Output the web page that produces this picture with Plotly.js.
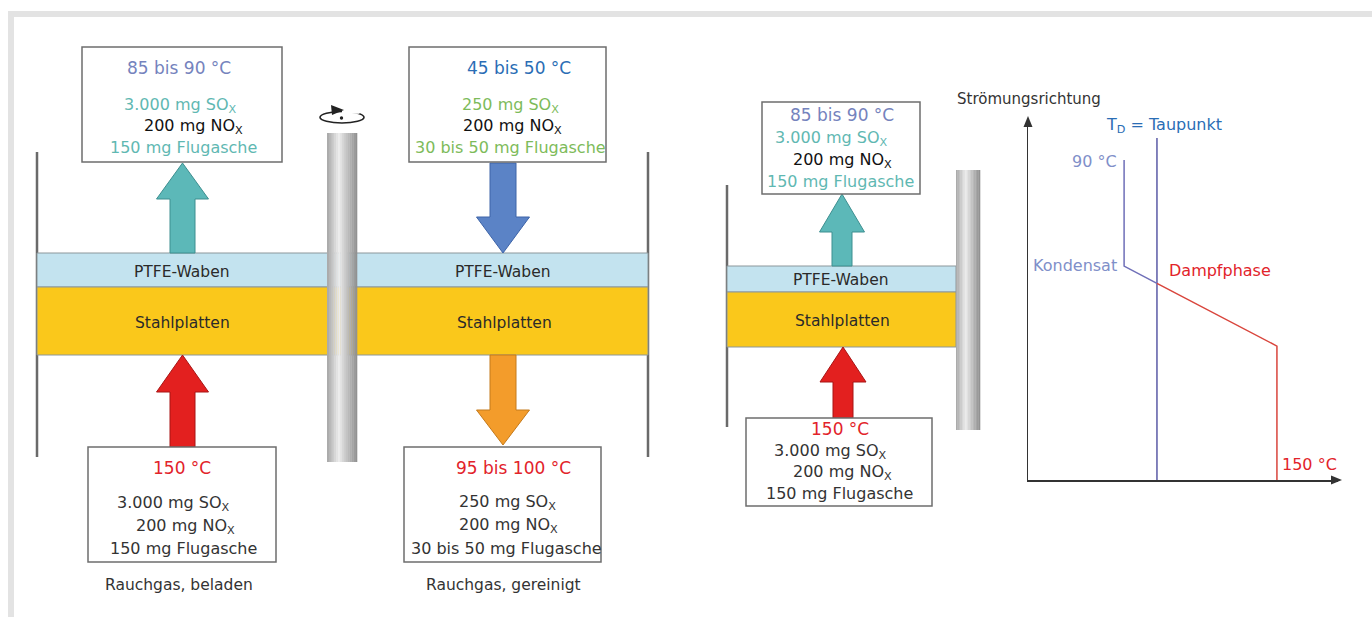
<!DOCTYPE html>
<html><head><meta charset="utf-8">
<script src="https://cdn.plot.ly/plotly-3.0.1.min.js"></script>
<style>html,body{margin:0;padding:0;background:#fff;overflow:hidden}</style>
</head><body><div id="chart" style="width:1372px;height:617px"></div>
<script>
// ================= DATA =================
const boxTemps = ["85 bis 90 °C", "45 bis 50 °C", "150 °C", "95 bis 100 °C", "85 bis 90 °C", "150 °C"];
const soxMg = [3000, 250, 3000, 250, 3000, 3000];
const noxMg = [200, 200, 200, 200, 200, 200];
const ashMg = ["150", "30 bis 50", "150", "30 bis 50", "150", "150"];
const layerNames = ["PTFE-Waben", "Stahlplatten"];
const captions = ["Rauchgas, beladen", "Rauchgas, gereinigt"];
const axisTitle = "Strömungsrichtung";
const dewLabel = "T<sub>D</sub> = Taupunkt";
const phaseLabels = ["Kondensat", "Dampfphase"];
const profileTemps = ["90 °C", "150 °C"];
// temperature profile (schematic units 0..100)
const condX = [31, 31, 41.6];
const condY = [88.9, 59.4, 54.6];
const vapX = [41.6, 80.3, 80.3];
const vapY = [54.6, 37.2, 0];
const dewX = [41.6, 41.6];
const dewY = [0, 95];

// ================= LAYOUT GEOMETRY / STYLE =================
const FONT = "DejaVu Sans";
const C = {teal:'#5fb8b2', gblue:'#7583bd', blue:'#2a6db5', green:'#7dbb5a', red:'#e2232a', dark:'#333333', black:'#111111', lav:'#7f8fc9'};
const boxGeom = [
  {x0:82, x1:282, y0:47, y1:162, cx:[179,180,193,183], ly:[68,105,126,147], col:[C.gblue,C.teal,C.black,C.teal]},
  {x0:409,x1:606, y0:47, y1:162, cx:[519,510,512,510], ly:[68,105,126,147], col:[C.blue,C.green,C.black,C.green]},
  {x0:88, x1:276, y0:447,y1:562, cx:[182,173,185,183], ly:[468,503,526,548], col:[C.red,C.dark,C.dark,C.dark]},
  {x0:404,x1:601, y0:447,y1:562, cx:[513,507,508,506], ly:[468,502,525,548], col:[C.red,C.dark,C.dark,C.dark]},
  {x0:762,x1:920, y0:102,y1:194, cx:[842,831,842,840], ly:[115,138,160,181], col:[C.gblue,C.teal,C.black,C.teal]},
  {x0:746,x1:932, y0:418,y1:506, cx:[840,830,842,839], ly:[429,451,472,493], col:[C.red,C.dark,C.dark,C.dark]}
];
const bands = [
  {x0:37, x1:648, y0:253, y1:287, fill:'#c3e3ef'},
  {x0:37, x1:648, y0:287, y1:355, fill:'#fac81b'},
  {x0:727,x1:956, y0:266, y1:292, fill:'#c3e3ef'},
  {x0:727,x1:956, y0:292, y1:347, fill:'#fac81b'}
];
const bandLabelPos = [
  {i:0, x:182, y:272}, {i:0, x:503, y:272}, {i:1, x:182, y:323}, {i:1, x:504, y:323},
  {i:0, x:841, y:280}, {i:1, x:842, y:321}
];
const walls = [{x:37,y0:152,y1:457},{x:648,y0:152,y1:457},{x:727,y0:185,y1:427}];
const poles = [{x0:327,x1:357,y0:133,y1:462},{x0:956,x1:980,y0:170,y1:430}];
const arrows = [
  {cx:182.5, sh:12.5, hh:26, tip:163, base:199, end:253, fill:'#5cb8b8', line:'#3d8f90'},
  {cx:182.5, sh:12.5, hh:26, tip:355, base:392, end:447, fill:'#e3201f', line:'#a81515'},
  {cx:503,   sh:13,   hh:26.5, tip:253, base:217, end:163, fill:'#5b83c6', line:'#3e64a8'},
  {cx:503,   sh:13,   hh:26.5, tip:445, base:410, end:355, fill:'#f39c2b', line:'#c47a1c'},
  {cx:842,   sh:10,   hh:22.5, tip:194, base:232, end:266, fill:'#5cb8b8', line:'#3d8f90'},
  {cx:843,   sh:10,   hh:23, tip:347, base:382, end:418, fill:'#e3201f', line:'#a81515'}
];
const captionPos = [{x:179,y:585},{x:503,y:585}];

// ================= BUILD =================
const fmt = n => String(n).replace(/\B(?=(\d{3})+(?!\d))/g, '.');
const shapes = [];
const annotations = [];

// frame
shapes.push({type:'rect', xref:'x', yref:'y', x0:8, x1:1372, y0:11, y1:17, fillcolor:'#e3e3e3', line:{width:0}, layer:'below'});
shapes.push({type:'rect', xref:'x', yref:'y', x0:8, x1:14, y0:11, y1:617, fillcolor:'#e3e3e3', line:{width:0}, layer:'below'});

// walls
walls.forEach(w => shapes.push({type:'line', xref:'x', yref:'y', x0:w.x, x1:w.x, y0:w.y0, y1:w.y1, line:{color:'#6a6a6a', width:2.5}}));

// bands
bands.forEach(b => shapes.push({type:'rect', xref:'x', yref:'y', x0:b.x0, x1:b.x1, y0:b.y0, y1:b.y1, fillcolor:b.fill, line:{color:'#8c979b', width:1}}));

// poles (cylinder shading via strips)
poles.forEach(p => {
  const n = 16, w = (p.x1 - p.x0) / n;
  for (let k = 0; k < n; k++) {
    const t = (k + 0.5) / n;
    const v = Math.round(t < 0.4 ? 165 + (236 - 165) * (t / 0.4) : 236 - (236 - 140) * ((t - 0.4) / 0.6));
    shapes.push({type:'rect', xref:'x', yref:'y', x0:p.x0 + k*w, x1:p.x0 + (k+1)*w + 0.3, y0:p.y0, y1:p.y1,
      fillcolor:`rgb(${v},${v},${v})`, line:{width:0}});
  }
});

// arrows
arrows.forEach(a => {
  const path = `M ${a.cx-a.sh},${a.end} L ${a.cx-a.sh},${a.base} L ${a.cx-a.hh},${a.base} L ${a.cx},${a.tip} L ${a.cx+a.hh},${a.base} L ${a.cx+a.sh},${a.base} L ${a.cx+a.sh},${a.end} Z`;
  shapes.push({type:'path', xref:'x', yref:'y', path, fillcolor:a.fill, line:{color:a.line, width:1}});
});

// boxes + text
boxGeom.forEach((g, i) => {
  shapes.push({type:'rect', xref:'x', yref:'y', x0:g.x0, x1:g.x1, y0:g.y0, y1:g.y1, fillcolor:'#ffffff', line:{color:'#6e6e6e', width:1.5}});
  const lines = [boxTemps[i], `${fmt(soxMg[i])} mg SO<sub>X</sub>`, `${noxMg[i]} mg NO<sub>X</sub>`, `${ashMg[i]} mg Flugasche`];
  lines.forEach((t, j) => annotations.push({xref:'x', yref:'y', x:g.cx[j], y:g.ly[j], text:t, showarrow:false,
    xanchor:'center', yanchor:'middle', font:{family:FONT, size:(j === 0 ? 17 : 16), color:g.col[j]}}));
});

// band labels
bandLabelPos.forEach(p => annotations.push({xref:'x', yref:'y', x:p.x, y:p.y, text:layerNames[p.i], showarrow:false,
  xanchor:'center', yanchor:'middle', font:{family:FONT, size:15.5, color:'#2a2a2a'}}));

// captions
captions.forEach((c, i) => annotations.push({xref:'x', yref:'y', x:captionPos[i].x, y:captionPos[i].y, text:c, showarrow:false,
  xanchor:'center', yanchor:'middle', font:{family:FONT, size:15.5, color:'#333'}}));

// rotation icon
shapes.push({type:'circle', xref:'x', yref:'y', x0:320, x1:364, y0:111.5, y1:123, line:{color:'#222', width:1.6}});
shapes.push({type:'rect', xref:'x', yref:'y', x0:342, x1:359.5, y0:108, y1:113.8, fillcolor:'#ffffff', line:{width:0}});
shapes.push({type:'path', xref:'x', yref:'y', path:'M 331,105 L 344,110 L 332,115 Z', fillcolor:'#222', line:{width:0}});
shapes.push({type:'circle', xref:'x', yref:'y', x0:339.8, x1:343.2, y0:116.3, y1:119.7, fillcolor:'#222', line:{width:0}});

// graph axis arrowheads
shapes.push({type:'path', xref:'x', yref:'y', path:'M 1028,116 L 1023.5,127 L 1032.5,127 Z', fillcolor:'#333', line:{width:0}});
shapes.push({type:'path', xref:'x', yref:'y', path:'M 1342,480 L 1331,475.5 L 1331,484.5 Z', fillcolor:'#333', line:{width:0}});

// graph labels
annotations.push({xref:'x', yref:'y', x:1029, y:99, text:axisTitle, showarrow:false, xanchor:'center', yanchor:'middle', font:{family:FONT, size:15, color:'#333'}});
annotations.push({xref:'x', yref:'y', x:1164, y:125, text:dewLabel, showarrow:false, xanchor:'center', yanchor:'middle', font:{family:FONT, size:16, color:C.blue}});
annotations.push({xref:'x', yref:'y', x:1119, y:161, text:profileTemps[0], showarrow:false, xanchor:'right', yanchor:'middle', font:{family:FONT, size:16, color:C.lav}});
annotations.push({xref:'x', yref:'y', x:1119, y:265, text:phaseLabels[0], showarrow:false, xanchor:'right', yanchor:'middle', font:{family:FONT, size:16, color:C.lav}});
annotations.push({xref:'x', yref:'y', x:1167, y:270, text:phaseLabels[1], showarrow:false, xanchor:'left', yanchor:'middle', font:{family:FONT, size:16, color:C.red}});
annotations.push({xref:'x', yref:'y', x:1280, y:464, text:profileTemps[1], showarrow:false, xanchor:'left', yanchor:'middle', font:{family:FONT, size:16, color:C.red}});

const traces = [
  {x:dewX, y:dewY, xaxis:'x2', yaxis:'y2', mode:'lines', line:{color:'#5a5aa6', width:1.5}, hoverinfo:'skip'},
  {x:condX, y:condY, xaxis:'x2', yaxis:'y2', mode:'lines', line:{color:'#6f6fb8', width:1.5}, hoverinfo:'skip'},
  {x:vapX, y:vapY, xaxis:'x2', yaxis:'y2', mode:'lines', line:{color:'#d9453c', width:1.5}, hoverinfo:'skip'}
];

const H = 617, W = 1372;
const layout = {
  width: W, height: H, autosize:false,
  margin:{l:0, r:0, t:0, b:0, pad:0},
  paper_bgcolor:'#ffffff', plot_bgcolor:'rgba(0,0,0,0)',
  showlegend:false,
  xaxis:{range:[0, W], visible:false, fixedrange:true},
  yaxis:{range:[H, 0], visible:false, fixedrange:true},
  xaxis2:{domain:[1028/W, 1338/W], range:[0, 100], anchor:'y2', showline:true, linecolor:'#333', linewidth:1.5,
    showticklabels:false, ticks:'', showgrid:false, zeroline:false, fixedrange:true},
  yaxis2:{domain:[1 - 480/H, 1 - 120/H], range:[0, 100], anchor:'x2', showline:true, linecolor:'#333', linewidth:1.5,
    showticklabels:false, ticks:'', showgrid:false, zeroline:false, fixedrange:true},
  shapes, annotations
};
Plotly.newPlot('chart', traces, layout, {staticPlot:true, displayModeBar:false});
</script></body></html>
